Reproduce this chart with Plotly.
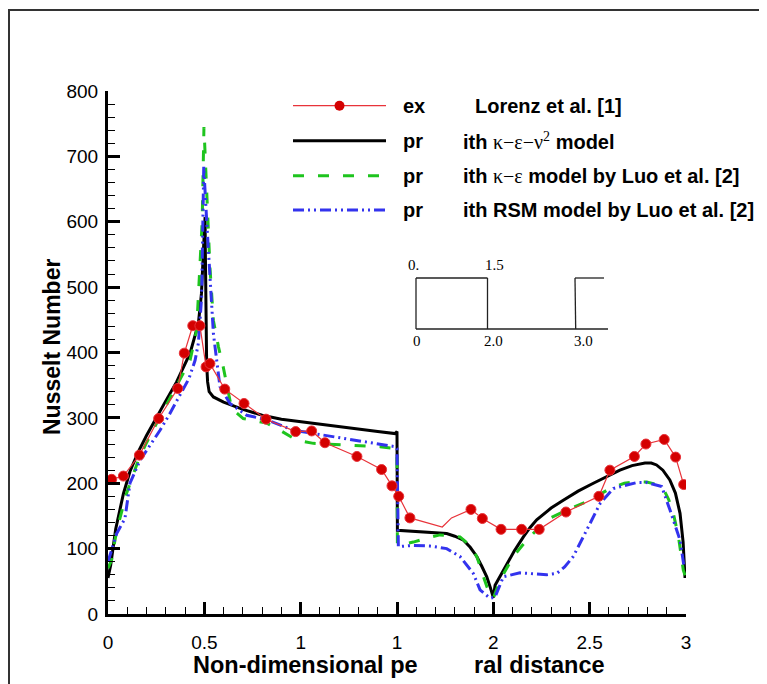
import plotly.graph_objects as go

# ---------------- data ----------------
exp_x = [0.019, 0.08, 0.163, 0.263, 0.362, 0.396, 0.44, 0.477, 0.509, 0.529, 0.606, 0.706,
         0.82, 0.974, 1.057, 1.126, 1.292, 1.42, 1.474, 1.509, 1.567, 1.735, 1.783, 1.884,
         1.943, 2.04, 2.147, 2.238, 2.377, 2.548, 2.605, 2.732, 2.792, 2.887, 2.946, 2.988]
exp_y = [206, 211, 243, 299, 345, 399, 441, 441, 378, 383, 344, 322,
         298, 279, 280, 262, 241, 221, 196, 180, 147, 133, 147, 160,
         146, 129.5, 129.5, 129.5, 156, 180, 220, 241, 260, 267, 240, 198]
exp_marker_shown = [1] * 21 + [0, 0] + [1] * 13

v2f_x = [0.0, 0.014, 0.04, 0.08, 0.114, 0.157, 0.2, 0.253, 0.3, 0.356, 0.4, 0.426, 0.469,
         0.485, 0.496, 0.502, 0.504, 0.505, 0.508, 0.512, 0.517, 0.525, 0.547, 0.6, 0.7,
         0.8, 0.9, 1.0, 1.1, 1.2, 1.3, 1.4, 1.49, 1.5, 1.502, 1.55, 1.619, 1.7, 1.758,
         1.8, 1.845, 1.88, 1.914, 1.94, 1.966, 1.985, 1.997, 2.0, 2.009, 2.04, 2.069, 2.11,
         2.156, 2.19, 2.225, 2.3, 2.363, 2.44, 2.519, 2.6, 2.657, 2.72, 2.787, 2.82, 2.847,
         2.88, 2.916, 2.945, 2.969, 2.985, 2.995]
v2f_y = [55, 75, 130, 184, 218, 248, 273, 302, 326, 355, 382, 399, 444,
         490, 560, 607, 607, 560, 420, 383, 355, 340, 332, 324, 313,
         304, 298, 294, 290, 286, 282, 279, 276, 279, 128, 127, 126, 125, 123,
         119, 113, 102, 88, 73, 57, 40, 28, 25, 44, 60, 75, 97,
         118, 132, 144, 162, 174, 188, 200, 212, 220, 227, 231, 231, 228,
         220, 205, 185, 154, 110, 55]

ke_x = [0.0, 0.019, 0.045, 0.097, 0.157, 0.2, 0.253, 0.3, 0.356, 0.426, 0.46, 0.477, 0.489,
        0.498, 0.512, 0.529, 0.547, 0.573, 0.598, 0.642, 0.702, 0.824, 0.893, 0.979, 1.066,
        1.239, 1.412, 1.49, 1.5, 1.502, 1.559, 1.585, 1.654, 1.723, 1.827, 1.87, 1.914, 1.94,
        1.966, 1.985, 2.0, 2.035, 2.07, 2.104, 2.173, 2.277, 2.381, 2.502, 2.605, 2.68, 2.726,
        2.796, 2.85, 2.882, 2.91, 2.934, 2.96, 2.986, 3.0]
ke_y = [70, 83, 128, 185, 235, 262, 292, 318, 348, 388, 434, 526, 602,
        745, 653, 531, 449, 409, 378, 314, 299, 292, 281, 266, 261,
        258, 256, 253, 250, 105, 108, 110, 116, 121, 118, 107, 88, 65,
        42, 30, 24, 52, 70, 88, 113, 144, 159, 174, 192, 200, 202,
        202, 198, 192, 175, 154, 120, 67, 55]

rsm_x = [0.0, 0.019, 0.045, 0.088, 0.114, 0.166, 0.22, 0.27, 0.32, 0.374, 0.42, 0.452, 0.469,
         0.486, 0.495, 0.497, 0.512, 0.529, 0.547, 0.581, 0.633, 0.72, 0.824, 0.962, 1.066,
         1.239, 1.49, 1.5, 1.507, 1.585, 1.67, 1.758, 1.827, 1.896, 1.931, 1.983, 2.009,
         2.052, 2.138, 2.277, 2.329, 2.37, 2.415, 2.484, 2.554, 2.623, 2.744, 2.796, 2.874,
         2.917, 2.969, 2.99]
rsm_y = [80, 98, 123, 146, 200, 235, 258, 281, 306, 335, 360, 388, 414,
         485, 618, 684, 602, 516, 429, 348, 322, 304, 297, 281, 276,
         268, 256, 253, 103, 105, 104, 100, 88, 62, 37, 24, 26,
         57, 63, 60, 62, 72, 88, 128, 169, 192, 201, 201, 195,
         159, 113, 72]

x_tickvals = [0, 0.5, 1, 1.5, 2, 2.5, 3]
x_ticktext = ["0", "0.5", "1", "1", "2", "2.5", "3"]

# ---------------- layout helpers ----------------
# page body has an 8px margin, so the figure is laid out 8px smaller/shifted
OFF = 8
W, H = 767 - OFF, 684 - OFF
L, R, T, B = 108, 686, 91, 614   # plot area in window pixels


def px(x):
    return (x - L) / (R - L)


def py(y):
    return (B - y) / (B - T)


SANS = "Liberation Sans, Arial, sans-serif"
SERIF = "Liberation Serif, Times New Roman, serif"
RED_LINE = "#e8333a"
RED_MK = "#d40000"
GREEN = "#1ec41e"
BLUE = "#3333ee"
BLUE_DASH = "11px,4px,2px,4px,2px,4px"
GREEN_DASH = "11px,14px"

fig = go.Figure()
fig.add_trace(go.Scatter(x=v2f_x, y=v2f_y, mode="lines",
                         line=dict(color="black", width=3), showlegend=False))
fig.add_trace(go.Scatter(x=ke_x, y=ke_y, mode="lines",
                         line=dict(color=GREEN, width=3, dash=GREEN_DASH), showlegend=False))
fig.add_trace(go.Scatter(x=rsm_x, y=rsm_y, mode="lines",
                         line=dict(color=BLUE, width=3, dash=BLUE_DASH), showlegend=False))
fig.add_trace(go.Scatter(x=exp_x, y=exp_y, mode="lines+markers",
                         line=dict(color=RED_LINE, width=1.2),
                         marker=dict(color=RED_MK, opacity=1,
                                     size=[10 * s for s in exp_marker_shown]),
                         showlegend=False))

shapes = []
annotations = []

# outer frame (cut off at right/bottom)
shapes.append(dict(type="rect", xref="paper", yref="paper",
                   x0=px(9), y0=py(700), x1=px(780), y1=py(10),
                   line=dict(color="#333333", width=2)))

# legend
rows = [105.7, 140.7, 175.7, 210.0]
shapes.append(dict(type="line", xref="paper", yref="paper", x0=px(293), x1=px(386),
                   y0=py(rows[0]), y1=py(rows[0]), line=dict(color=RED_LINE, width=1.2)))
shapes.append(dict(type="circle", xref="paper", yref="paper", x0=px(334.5), x1=px(344.5),
                   y0=py(rows[0] + 5), y1=py(rows[0] - 5), fillcolor=RED_MK,
                   line=dict(color=RED_MK, width=0)))
shapes.append(dict(type="line", xref="paper", yref="paper", x0=px(293), x1=px(386),
                   y0=py(rows[1]), y1=py(rows[1]), line=dict(color="black", width=3)))
shapes.append(dict(type="line", xref="paper", yref="paper", x0=px(293), x1=px(386),
                   y0=py(rows[2]), y1=py(rows[2]), line=dict(color=GREEN, width=3, dash=GREEN_DASH)))
shapes.append(dict(type="line", xref="paper", yref="paper", x0=px(293), x1=px(386),
                   y0=py(rows[3]), y1=py(rows[3]), line=dict(color=BLUE, width=3, dash=BLUE_DASH)))

serif_span = "<span style=\"font-family:'Liberation Serif';font-weight:normal\">%s</span>"
left_words = ["ex", "pr", "pr", "pr"]
right_texts = [
    "Lorenz et al. [1]",
    "ith " + serif_span % "κ−ε−ν<sup>2</sup>" + " model",
    "ith " + serif_span % "κ−ε" + " model by Luo et al. [2]",
    "ith RSM model by Luo et al. [2]",
]
right_x = [473, 461, 461, 461]
for i in range(4):
    annotations.append(dict(xref="paper", yref="paper", x=px(401), y=py(rows[i]),
                            xanchor="left", yanchor="middle", showarrow=False,
                            text="<b>%s</b>" % left_words[i],
                            font=dict(family=SANS, size=20, color="black")))
    annotations.append(dict(xref="paper", yref="paper", x=px(right_x[i]), y=py(rows[i]),
                            xanchor="left", yanchor="middle", showarrow=False,
                            text="<b>%s</b>" % right_texts[i],
                            font=dict(family=SANS, size=20, color="black")))

# inset schematic
ink = dict(color="#222222", width=1.3)
seg = [((416, 329), (416, 278)), ((416, 278), (487.5, 278)), ((487.5, 278), (487.5, 329)),
       ((416, 329), (608, 329)), ((575.7, 329), (575, 278)), ((575, 278), (604, 278))]
for (a, b) in seg:
    shapes.append(dict(type="line", xref="paper", yref="paper", x0=px(a[0]), y0=py(a[1]),
                       x1=px(b[0]), y1=py(b[1]), line=ink))
for txt, x, y in [("0.", 413, 265), ("1.5", 494, 265), ("0", 417, 341),
                  ("2.0", 493, 341), ("3.0", 583, 341)]:
    annotations.append(dict(xref="paper", yref="paper", x=px(x), y=py(y), xanchor="center",
                            yanchor="middle", showarrow=False, text=txt,
                            font=dict(family=SERIF, size=15, color="black")))

# axis titles
annotations.append(dict(xref="paper", yref="paper", x=px(52), y=py(347), xanchor="center",
                        yanchor="middle", showarrow=False, textangle=-90,
                        text="<b>Nusselt Number</b>",
                        font=dict(family=SANS, size=23, color="black")))
annotations.append(dict(xref="paper", yref="paper", x=px(191), y=py(665), xanchor="left",
                        yanchor="middle", showarrow=False, text="<b>Non-dimensional pe</b>",
                        font=dict(family=SANS, size=23.5, color="black")))
annotations.append(dict(xref="paper", yref="paper", x=px(472), y=py(665), xanchor="left",
                        yanchor="middle", showarrow=False, text="<b>ral distance</b>",
                        font=dict(family=SANS, size=23.5, color="black")))

axis_common = dict(showgrid=False, zeroline=False, showline=True, linecolor="black",
                   linewidth=3, ticks="inside", ticklen=12, tickwidth=3, tickcolor="black",
                   tickfont=dict(family=SANS, size=19, color="black"), mirror=False)

fig.update_layout(
    width=W, height=H,
    margin=dict(l=L - OFF, r=W - (R - OFF), t=T - OFF, b=H - (B - OFF), pad=0),
    paper_bgcolor="white", plot_bgcolor="white",
    showlegend=False,
    xaxis=dict(range=[0, 3], tickmode="array", tickvals=x_tickvals, ticktext=x_ticktext,
               minor=dict(dtick=0.1, tick0=0, ticks="inside", ticklen=7, tickwidth=1.3,
                          tickcolor="black"),
               ticklabelstandoff=9, **axis_common),
    yaxis=dict(range=[0, 800], dtick=100, tick0=0,
               minor=dict(dtick=20, tick0=0, ticks="inside", ticklen=7, tickwidth=1.3,
                          tickcolor="black"),
               ticklabelstandoff=3, **axis_common),
    shapes=shapes,
    annotations=annotations,
)

fig.write_html("out.html")
